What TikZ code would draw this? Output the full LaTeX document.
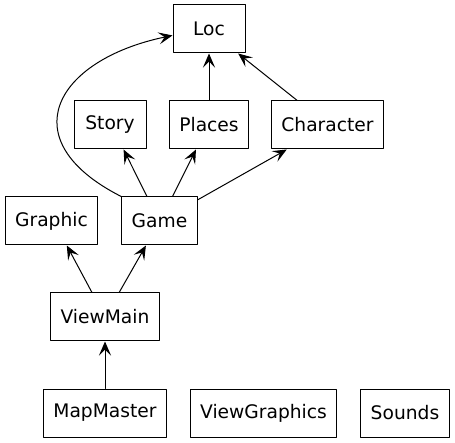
\documentclass[tikz,border=0pt]{standalone}
\usepackage{fontspec}
\setmainfont{DejaVu Sans}
\usetikzlibrary{arrows.meta}
\tikzset{
  cls/.style={draw,line width=1pt,minimum width=72pt,minimum height=48pt,inner xsep=10pt,font=\fontsize{18.67}{22}\selectfont},
  dep/.style={-{Stealth[length=14pt,width=12pt,inset=6pt]},line width=1pt}
}
\begin{document}
\begin{tikzpicture}[line cap=round,line join=round,x=1pt,y=-1pt]
\useasboundingbox (0,0) rectangle (455,443);
\node[cls] (loc) at (209,29) {Loc};
\node[cls] (story) at (110,125) {Story};
\node[cls] (places) at (209,125) {Places};
\node[cls] (character) at (327.5,125) {Character};
\node[cls] (graphic) at (51.5,221) {Graphic};
\node[cls] (game) at (159.5,221) {Game};
\node[cls] (viewmain) at (105,317) {ViewMain};
\node[cls] (mapmaster) at (105,413) {MapMaster};
\node[cls] (viewgraphics) at (263.5,413) {ViewGraphics};
\node[cls] (sounds) at (405,413) {Sounds};
\draw[dep] (game.north west) .. controls (10,140) and (55,60) .. (loc.190);
\draw[dep] (places.north) -- (loc.south);
\draw[dep] (character.141) -- (loc.-40);
\draw[dep] (game.117.5) -- (story.-61.6);
\draw[dep] (game.62.5) -- (places.-118.4);
\draw[dep] (game.29.7) -- (character.-149.5);
\draw[dep] (viewmain.118) -- (graphic.-58);
\draw[dep] (viewmain.60.8) -- (game.-119);
\draw[dep] (mapmaster.north) -- (viewmain.south);
\end{tikzpicture}
\end{document}
